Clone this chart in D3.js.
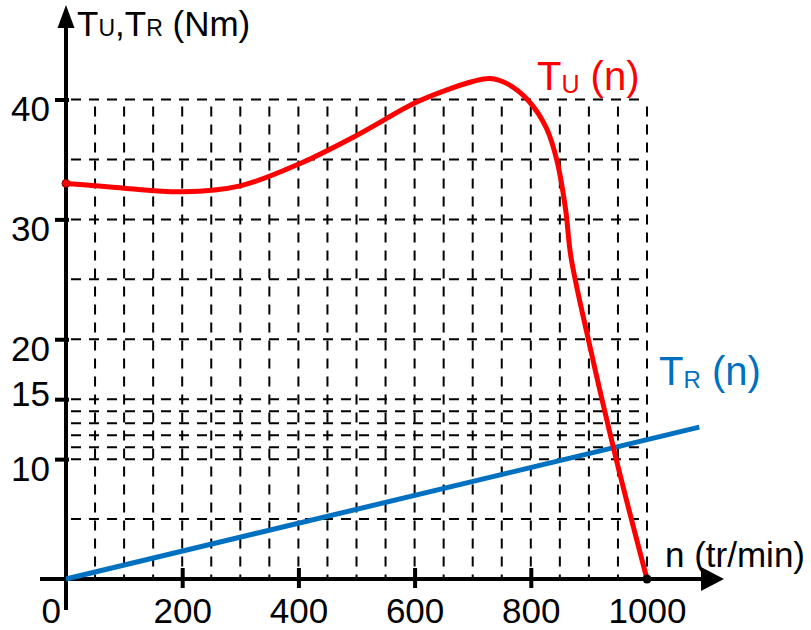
<!DOCTYPE html>
<html>
<head>
<meta charset="utf-8">
<script src="https://cdn.jsdelivr.net/npm/d3@7"></script>
<style>
  html, body { margin: 0; padding: 0; background: #ffffff; }
  svg { display: block; }
  text { font-family: "Liberation Sans", Arial, sans-serif; }
</style>
</head>
<body>
<svg id="chart" width="811" height="630"></svg>
<script>
// ---------- data ----------
const speedN = [0, 50, 100, 200, 300, 400, 500, 600, 650, 700, 730, 760, 796, 827, 845, 860, 869, 899, 947, 1000];
const torqueU = [33.0, 32.8, 32.6, 32.3, 32.8, 34.6, 37.0, 39.7, 40.7, 41.5, 41.75, 41.3, 39.9, 37.6, 34.9, 30.8, 26.9, 20, 10, 0];
const loadN = [0, 1090];
const torqueR = [0, 12.67];
const xTickValues = [200, 400, 600, 800];
const xTickLabels = ["200", "400", "600", "800", "1000"];
const xLabelValues = [200, 400, 600, 800, 1000];
const yTickValues = [10, 15, 20, 30, 40];
const gridXValues = [50, 100, 150, 200, 250, 300, 350, 400, 450, 500, 550, 600, 650, 700, 750, 800, 850, 900, 950, 1000];
const gridYValues = [5, 10, 11, 12, 13, 14, 15, 20, 25, 30, 35, 40];

// ---------- setup ----------
const svg = d3.select("#chart");
const x = d3.scaleLinear().domain([0, 1000]).range([66, 647]);
const y = d3.scaleLinear().domain([0, 40]).range([579, 99.5]);
const RED = "#ff0000", BLUE = "#0070c0";

// ---------- grid ----------
const grid = svg.append("g");
grid.selectAll("line.h").data(gridYValues).enter().append("line")
  .attr("x1", x(0)).attr("x2", x(1000))
  .attr("y1", d => y(d)).attr("y2", d => y(d))
  .attr("stroke", "#000").attr("stroke-width", 2)
  .attr("stroke-dasharray", "10,8").attr("stroke-dashoffset", 13);
grid.selectAll("line.v").data(gridXValues).enter().append("line")
  .attr("x1", d => x(d)).attr("x2", d => x(d))
  .attr("y1", y(40)).attr("y2", y(0))
  .attr("stroke", "#000").attr("stroke-width", 2)
  .attr("stroke-dasharray", "10,8").attr("stroke-dashoffset", 11);

// ---------- axes ----------
const axisG = svg.append("g");
const yAxis = d3.axisLeft(y).tickValues(yTickValues).tickSize(11).tickFormat(d3.format("d"));
const yA = axisG.append("g").attr("transform", `translate(${x(0)},0)`).call(yAxis);
yA.select(".domain").remove();
yA.selectAll(".tick line").attr("stroke", "#000").attr("stroke-width", 4).attr("x2", -11).attr("x1", 3);
yA.selectAll(".tick text")
  .attr("x", -16)
  .attr("dy", null)
  .attr("y", d => d === 15 ? 6 : 21)
  .attr("font-size", 35).attr("font-family", "Liberation Sans, Arial, sans-serif")
  .attr("fill", "#000").attr("text-anchor", "end");

const xAxis = d3.axisBottom(x).tickValues(xLabelValues).tickSize(9).tickFormat((d, i) => xTickLabels[i]);
const xA = axisG.append("g").attr("transform", `translate(0,${y(0)})`).call(xAxis);
xA.select(".domain").remove();
xA.selectAll(".tick line")
  .attr("stroke", d => xTickValues.includes(d) ? "#000" : "none")
  .attr("stroke-width", 4).attr("y1", -11).attr("y2", 9);
xA.selectAll(".tick text")
  .attr("y", 44).attr("dy", null)
  .attr("font-size", 35).attr("font-family", "Liberation Sans, Arial, sans-serif")
  .attr("fill", "#000").attr("text-anchor", "middle");

axisG.append("line").attr("x1", x(0)).attr("x2", x(0)).attr("y1", 610).attr("y2", 26)
  .attr("stroke", "#000").attr("stroke-width", 4);
axisG.append("path").attr("d", `M${x(0)},5 L${x(0) - 8.5},28 L${x(0) + 8.5},28 Z`).attr("fill", "#000");
axisG.append("line").attr("x1", 40).attr("x2", 704).attr("y1", y(0)).attr("y2", y(0))
  .attr("stroke", "#000").attr("stroke-width", 4);
axisG.append("path").attr("d", `M724,${y(0)} L701,${y(0) - 12} L701,${y(0) + 12} Z`).attr("fill", "#000");

axisG.append("text").attr("x", 61).attr("y", 623).attr("text-anchor", "end")
  .attr("font-size", 35).attr("fill", "#000").text("0");

// ---------- series ----------
const blueData = loadN.map((n, i) => [n, torqueR[i]]);
svg.append("path").datum(blueData)
  .attr("d", d3.line().x(d => x(d[0])).y(d => y(d[1])))
  .attr("fill", "none").attr("stroke", BLUE).attr("stroke-width", 5);

const redData = speedN.map((n, i) => [n, torqueU[i]]);
svg.append("path").datum(redData)
  .attr("d", d3.line().curve(d3.curveCatmullRom.alpha(0.5)).x(d => x(d[0])).y(d => y(d[1])))
  .attr("fill", "none").attr("stroke", RED).attr("stroke-width", 5).attr("stroke-linejoin", "round");

svg.append("circle").attr("cx", x(speedN[0])).attr("cy", y(torqueU[0])).attr("r", 4)
  .attr("fill", RED).attr("stroke", "#700").attr("stroke-width", 1);
svg.append("circle").attr("cx", x(speedN[speedN.length - 1])).attr("cy", y(torqueU[torqueU.length - 1])).attr("r", 4.5)
  .attr("fill", "#000");

// ---------- labels ----------
function richText(px, py, parts, color) {
  const t = svg.append("text").attr("x", px).attr("y", py).attr("fill", color);
  parts.forEach(p => {
    t.append("tspan").attr("font-size", p.size).attr("dy", p.dy || 0).text(p.t);
  });
  return t;
}
richText(77, 36, [
  { t: "T", size: 35 }, { t: "U", size: 23 }, { t: ",", size: 35 },
  { t: "T", size: 35 }, { t: "R", size: 23 }, { t: " (Nm)", size: 35 }
], "#000");
svg.append("text").attr("x", 665).attr("y", 567).attr("font-size", 35).attr("fill", "#000").text("n (tr/min)");
richText(537, 90, [
  { t: "T", size: 40 }, { t: "U", size: 25, dy: 3 }, { t: " (n)", size: 40, dy: -3 }
], RED);
richText(659, 385, [
  { t: "T", size: 40 }, { t: "R", size: 24, dy: 3 }, { t: " (n)", size: 40, dy: -3 }
], BLUE);
</script>
</body>
</html>
